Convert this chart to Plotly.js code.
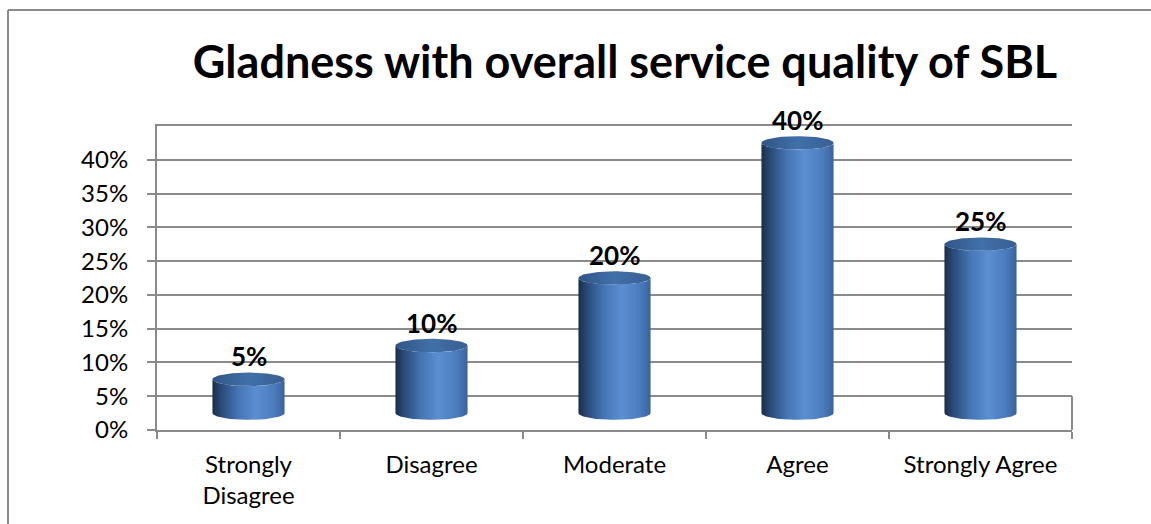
<!DOCTYPE html>
<html><head><meta charset="utf-8">
<script src="https://cdn.plot.ly/plotly-3.0.1.min.js"></script>
<style>html,body{margin:0;padding:0;background:#fff}#chart{width:1151px;height:524px}</style>
</head><body><div id="chart"></div>
<script>
// ---- data ----
const categories = ['Strongly Disagree', 'Disagree', 'Moderate', 'Agree', 'Strongly Agree'];
const tickLabels = ['Strongly<br>Disagree', 'Disagree', 'Moderate', 'Agree', 'Strongly Agree'];
const values = [5, 10, 20, 40, 25];
const valueLabels = ['5%', '10%', '20%', '40%', '25%'];
const yTickVals = [0, 5, 10, 15, 20, 25, 30, 35, 40];
const yTickText = ['0%', '5%', '10%', '15%', '20%', '25%', '30%', '35%', '40%'];

// ---- 3D cylinder geometry (style) ----
const DEPTH = 2.5;     // bars sit half-way back in the 3D floor
const HALF_W = 0.197;  // half bar width, category units
const RY = 1.0;        // ellipse vertical radius, axis units
const NPTS = 48;
const GRID = '#8a8a8a';

const traces = [];
// invisible trace establishing category axis
traces.push({type: 'scatter', x: categories, y: values, mode: 'markers',
  marker: {opacity: 0}, hoverinfo: 'skip', showlegend: false});

values.forEach(function (v, i) {
  const base = DEPTH, top = v + DEPTH;
  const bx = [], by = [];
  for (let k = 0; k <= NPTS; k++) {
    const t = Math.PI * k / NPTS;
    bx.push(i - HALF_W * Math.cos(t)); by.push(base - RY * Math.sin(t));
  }
  for (let k = NPTS; k >= 0; k--) {
    const t = Math.PI * k / NPTS;
    bx.push(i - HALF_W * Math.cos(t)); by.push(top - RY * Math.sin(t));
  }
  traces.push({type: 'scatter', xaxis: 'x2', yaxis: 'y', x: bx, y: by, mode: 'lines',
    line: {width: 0, color: 'rgba(0,0,0,0)'}, fill: 'toself',
    fillgradient: {type: 'horizontal', colorscale: [
      [0, '#1a2d49'], [0.12, '#2a4a78'], [0.35, '#4474b3'], [0.6, '#5a8fd2'],
      [0.85, '#4b7cbe'], [1, '#3a639c']]},
    hoverinfo: 'skip', showlegend: false});
  const tx = [], ty = [];
  for (let k = 0; k <= 2 * NPTS; k++) {
    const t = Math.PI * k / NPTS;
    tx.push(i + HALF_W * Math.cos(t)); ty.push(top + RY * Math.sin(t));
  }
  traces.push({type: 'scatter', xaxis: 'x2', yaxis: 'y', x: tx, y: ty, mode: 'lines',
    line: {width: 0, color: 'rgba(0,0,0,0)'}, fill: 'toself',
    fillgradient: {type: 'horizontal', colorscale: [
      [0, '#2f5586'], [0.5, '#4170a9'], [1, '#385f93']]},
    hoverinfo: 'skip', showlegend: false});
});

const annotations = values.map(function (v, i) {
  return {x: categories[i], xref: 'x', y: v + DEPTH, yref: 'y', yshift: 23,
    text: valueLabels[i], showarrow: false, yanchor: 'middle',
    font: {family: 'Lato', size: 26, color: '#000', weight: 700}};
});

const W = 1151, H = 524, L = 157, R = 79, T = 126, B = 94;
const pw = W - L - R, ph = H - T - B;
const px = function (x) { return (x - L) / pw; };
const py = function (y) { return (H - B - y) / ph; };

const layout = {
  width: W, height: H,
  margin: {l: L, r: R, t: T, b: B, pad: 0},
  paper_bgcolor: '#fff', plot_bgcolor: '#fff',
  showlegend: false,
  font: {family: 'Lato', color: '#000'},
  title: {text: 'Gladness with overall service quality of SBL',
    font: {family: 'Lato', size: 45, weight: 700, color: '#000'},
    x: 625 / W, xanchor: 'center', xref: 'container',
    y: 1 - 62 / H, yanchor: 'middle', yref: 'container'},
  xaxis: {type: 'category', range: [-0.5, 4.5], tickmode: 'array',
    tickvals: categories, ticktext: tickLabels, tickson: 'boundaries',
    ticks: 'outside', ticklen: 7, tickwidth: 2, tickcolor: GRID,
    showline: true, mirror: true, linecolor: GRID, linewidth: 2,
    showgrid: false, zeroline: false, ticklabelstandoff: 12,
    tickfont: {family: 'Lato', size: 24, color: '#000'}, fixedrange: true},
  xaxis2: {overlaying: 'x', range: [-0.5, 4.5], visible: false, fixedrange: true},
  yaxis: {range: [0, 45], tickmode: 'array', tickvals: yTickVals, ticktext: yTickText,
    ticks: 'outside', ticklen: 8, tickwidth: 2, tickcolor: GRID,
    showline: true, linecolor: GRID, linewidth: 2,
    showgrid: true, gridcolor: GRID, gridwidth: 2, zeroline: false,
    ticklabelstandoff: 14,
    tickfont: {family: 'Lato', size: 24, color: '#000'}, fixedrange: true},
  shapes: [
    {type: 'line', xref: 'paper', yref: 'y', x0: 1, x1: 1, y0: 0, y1: 5,
      line: {color: GRID, width: 2}},
    {type: 'line', xref: 'paper', yref: 'paper', x0: px(8), x1: px(8), y0: py(10), y1: py(524),
      line: {color: '#8a8a8a', width: 2}},
    {type: 'line', xref: 'paper', yref: 'paper', x0: px(8), x1: px(1151), y0: py(10), y1: py(10),
      line: {color: '#8a8a8a', width: 2}}
  ],
  annotations: annotations
};

Plotly.newPlot('chart', traces, layout, {displayModeBar: false, staticPlot: true});
</script>
</body></html>
